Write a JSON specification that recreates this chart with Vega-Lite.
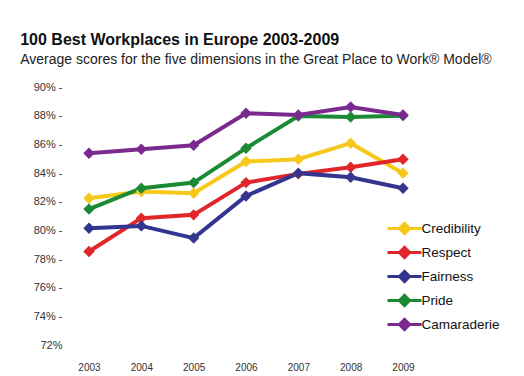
{
  "$schema": "https://vega.github.io/schema/vega-lite/v6.json",
  "autosize": "none",
  "width": 360,
  "height": 258,
  "padding": {"left": 70, "top": 87, "right": 94, "bottom": 31},
  "background": "white",
  "title": {
    "text": "100 Best Workplaces in Europe 2003-2009",
    "subtitle": "Average scores for the five dimensions in the Great Place to Work® Model®",
    "anchor": "start",
    "dx": -10,
    "offset": 14,
    "font": "Liberation Sans",
    "fontSize": 16,
    "fontWeight": "bold",
    "color": "#111",
    "subtitleFont": "Liberation Sans",
    "subtitleFontSize": 14,
    "subtitleColor": "#222",
    "subtitlePadding": 5
  },
  "config": {
    "view": {"stroke": null},
    "font": "Liberation Sans"
  },
  "data": {
    "values": [
      {"year": 2003, "dim": "Credibility", "v": 82.24},
      {"year": 2004, "dim": "Credibility", "v": 82.71},
      {"year": 2005, "dim": "Credibility", "v": 82.59},
      {"year": 2006, "dim": "Credibility", "v": 84.8},
      {"year": 2007, "dim": "Credibility", "v": 84.96},
      {"year": 2008, "dim": "Credibility", "v": 86.08},
      {"year": 2009, "dim": "Credibility", "v": 83.99},
      {"year": 2003, "dim": "Respect", "v": 78.52},
      {"year": 2004, "dim": "Respect", "v": 80.85},
      {"year": 2005, "dim": "Respect", "v": 81.08},
      {"year": 2006, "dim": "Respect", "v": 83.33},
      {"year": 2007, "dim": "Respect", "v": 83.94},
      {"year": 2008, "dim": "Respect", "v": 84.4},
      {"year": 2009, "dim": "Respect", "v": 84.96},
      {"year": 2003, "dim": "Fairness", "v": 80.15},
      {"year": 2004, "dim": "Fairness", "v": 80.31},
      {"year": 2005, "dim": "Fairness", "v": 79.46},
      {"year": 2006, "dim": "Fairness", "v": 82.4},
      {"year": 2007, "dim": "Fairness", "v": 83.99},
      {"year": 2008, "dim": "Fairness", "v": 83.7},
      {"year": 2009, "dim": "Fairness", "v": 82.94},
      {"year": 2003, "dim": "Pride", "v": 81.48},
      {"year": 2004, "dim": "Pride", "v": 82.94},
      {"year": 2005, "dim": "Pride", "v": 83.33},
      {"year": 2006, "dim": "Pride", "v": 85.73},
      {"year": 2007, "dim": "Pride", "v": 87.98},
      {"year": 2008, "dim": "Pride", "v": 87.91},
      {"year": 2009, "dim": "Pride", "v": 88.0},
      {"year": 2003, "dim": "Camaraderie", "v": 85.38},
      {"year": 2004, "dim": "Camaraderie", "v": 85.66},
      {"year": 2005, "dim": "Camaraderie", "v": 85.94},
      {"year": 2006, "dim": "Camaraderie", "v": 88.17},
      {"year": 2007, "dim": "Camaraderie", "v": 88.05},
      {"year": 2008, "dim": "Camaraderie", "v": 88.61},
      {"year": 2009, "dim": "Camaraderie", "v": 88.05}
    ]
  },
  "mark": {
    "type": "line",
    "strokeWidth": 4,
    "point": {"shape": "diamond", "size": 130, "filled": true}
  },
  "encoding": {
    "x": {
      "field": "year",
      "type": "quantitative",
      "scale": {"domain": [2002.637, 2009.516], "nice": false, "zero": false},
      "axis": {
        "values": [2003, 2004, 2005, 2006, 2007, 2008, 2009],
        "format": "d",
        "title": null,
        "domain": false,
        "ticks": false,
        "grid": false,
        "labelPadding": 17,
        "labelFontSize": 10,
        "labelColor": "#333",
        "labelFont": "Liberation Sans"
      }
    },
    "y": {
      "field": "v",
      "type": "quantitative",
      "scale": {"domain": [72, 90], "nice": false, "zero": false},
      "axis": {
        "values": [72, 74, 76, 78, 80, 82, 84, 86, 88, 90],
        "labelExpr": "datum.value == 72 ? datum.value + '%' : datum.value + '%  -'",
        "title": null,
        "domain": false,
        "ticks": false,
        "grid": false,
        "labelPadding": 8,
        "labelFontSize": 11,
        "labelColor": "#333",
        "labelFont": "Liberation Sans"
      }
    },
    "color": {
      "field": "dim",
      "type": "nominal",
      "sort": ["Credibility", "Respect", "Fairness", "Pride", "Camaraderie"],
      "scale": {
        "domain": ["Credibility", "Respect", "Fairness", "Pride", "Camaraderie"],
        "range": ["#f7c81c", "#e1262b", "#33358f", "#1a8a35", "#7a2a8e"]
      },
      "legend": {
        "title": null,
        "orient": "none",
        "legendX": 324.5,
        "legendY": 131.5,
        "symbolType": "M-2,0L2,0M0,-0.6L0.6,0L0,0.6L-0.6,0Z",
        "symbolSize": 289,
        "symbolStrokeWidth": 3,
        "labelFontSize": 13.5,
        "labelColor": "#111",
        "labelFont": "Liberation Sans",
        "rowPadding": 0,
        "labelOffset": 7,
        "encode": {
          "symbols": {"update": {"fill": {"scale": "color", "field": "value"}}}
        }
      }
    }
  }
}
